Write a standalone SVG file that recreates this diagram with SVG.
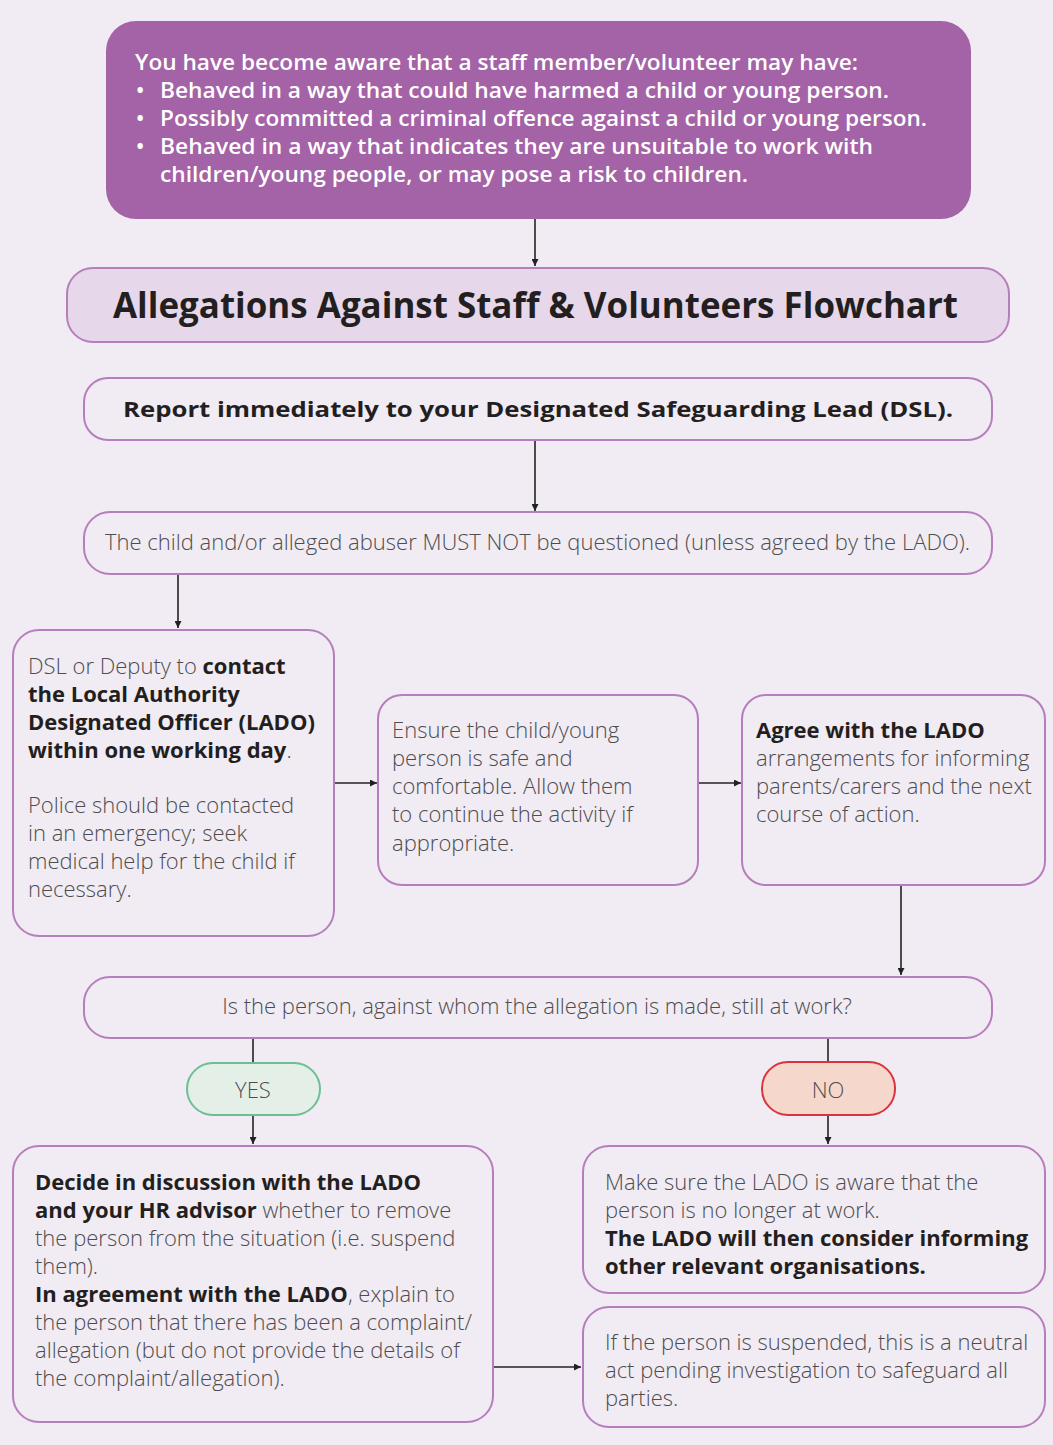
<svg xmlns="http://www.w3.org/2000/svg" width="1053" height="1445" viewBox="0 0 1053 1445">
<defs>
<marker id="ah" viewBox="0 0 10 10" refX="10" refY="5" markerWidth="7" markerHeight="7" markerUnits="userSpaceOnUse" orient="auto">
<path d="M0,0 L10,5 L0,10 z" fill="#222"/>
</marker>
<style>
.box{fill:#f1ebf3;stroke:#b67ebc;stroke-width:2}
.t{font-family:"Open Sans","Noto Sans",sans-serif;font-size:22px;fill:#4d4d4f;font-weight:300}
.b{font-weight:700;fill:#231f20}
.w{font-family:"Open Sans","Noto Sans",sans-serif;font-size:22px;fill:#ffffff;font-weight:600}
.c{stroke:#222;stroke-width:1.6;fill:none;marker-end:url(#ah)}
.l{stroke:#222;stroke-width:1.6;fill:none}
</style>
</defs>
<rect x="0" y="0" width="1053" height="1445" fill="#f1ebf3"/>

<g id="connectors">
<line class="c" x1="535" y1="219" x2="535" y2="266"/>
<line class="c" x1="535" y1="441" x2="535" y2="511"/>
<line class="c" x1="178" y1="575" x2="178" y2="628"/>
<line class="c" x1="335" y1="783" x2="377" y2="783"/>
<line class="c" x1="699" y1="783" x2="741" y2="783"/>
<line class="c" x1="901" y1="886" x2="901" y2="975"/>
<line class="l" x1="253" y1="1039" x2="253" y2="1063"/>
<line class="c" x1="253" y1="1116" x2="253" y2="1144"/>
<line class="l" x1="828" y1="1039" x2="828" y2="1062"/>
<line class="c" x1="828" y1="1116" x2="828" y2="1144"/>
<line class="c" x1="494" y1="1367" x2="581" y2="1367"/>
</g>

<g id="intro">
<rect x="106" y="21" width="865" height="198" rx="30" fill="#a462a7"/>
<text class="w" x="135" y="70" textLength="723" lengthAdjust="spacingAndGlyphs">You have become aware that a staff member/volunteer may have:</text>
<text class="w" x="136" y="98">•</text>
<text class="w" x="160" y="98" textLength="729" lengthAdjust="spacingAndGlyphs">Behaved in a way that could have harmed a child or young person.</text>
<text class="w" x="136" y="126">•</text>
<text class="w" x="160" y="126" textLength="767" lengthAdjust="spacingAndGlyphs">Possibly committed a criminal offence against a child or young person.</text>
<text class="w" x="136" y="154">•</text>
<text class="w" x="160" y="154" textLength="713" lengthAdjust="spacingAndGlyphs">Behaved in a way that indicates they are unsuitable to work with</text>
<text class="w" x="160" y="182" textLength="588" lengthAdjust="spacingAndGlyphs">children/young people, or may pose a risk to children.</text>
</g>

<g id="title">
<rect x="67" y="268" width="942" height="74" rx="26" fill="#e6d7ea" stroke="#b67ebc" stroke-width="2"/>
<text x="113" y="318" font-family="'Open Sans','Noto Sans',sans-serif" font-size="35" font-weight="700" fill="#231f20" textLength="845" lengthAdjust="spacingAndGlyphs">Allegations Against Staff &amp; Volunteers Flowchart</text>
</g>

<g id="report">
<rect class="box" x="84" y="378" width="908" height="62" rx="24"/>
<text class="t b" x="123" y="417" font-size="25" textLength="830" lengthAdjust="spacingAndGlyphs">Report immediately to your Designated Safeguarding Lead (DSL).</text>
</g>

<g id="noquestion">
<rect class="box" x="84" y="512" width="908" height="62" rx="26"/>
<text class="t" x="105" y="550" textLength="865" lengthAdjust="spacingAndGlyphs">The child and/or alleged abuser MUST NOT be questioned (unless agreed by the LADO).</text>
</g>

<g id="contactlado">
<rect class="box" x="13" y="630" width="321" height="306" rx="26"/>
<text class="t" x="28" y="674">DSL or Deputy to <tspan class="b">contact</tspan></text>
<text class="t b" x="28" y="702">the Local Authority</text>
<text class="t b" x="28" y="730">Designated Officer (LADO)</text>
<text class="t" x="28" y="758"><tspan class="b">within one working day</tspan>.</text>
<text class="t" x="28" y="813">Police should be contacted</text>
<text class="t" x="28" y="841">in an emergency; seek</text>
<text class="t" x="28" y="869">medical help for the child if</text>
<text class="t" x="28" y="897">necessary.</text>
</g>

<g id="ensuresafe">
<rect class="box" x="378" y="695" width="320" height="190" rx="24"/>
<text class="t" x="392" y="738">Ensure the child/young</text>
<text class="t" x="392" y="766">person is safe and</text>
<text class="t" x="392" y="794">comfortable. Allow them</text>
<text class="t" x="392" y="822">to continue the activity if</text>
<text class="t" x="392" y="851">appropriate.</text>
</g>

<g id="agreelado">
<rect class="box" x="742" y="695" width="303" height="190" rx="24"/>
<text class="t b" x="756" y="738">Agree with the LADO</text>
<text class="t" x="756" y="766">arrangements for informing</text>
<text class="t" x="756" y="794">parents/carers and the next</text>
<text class="t" x="756" y="822">course of action.</text>
</g>

<g id="stillatwork">
<rect class="box" x="84" y="977" width="908" height="61" rx="26"/>
<text class="t" x="537" y="1014" text-anchor="middle">Is the person, against whom the allegation is made, still at work?</text>
</g>

<g id="yes">
<rect x="187" y="1063" width="133" height="52" rx="26" fill="#e4f0e7" stroke="#6dbe93" stroke-width="2"/>
<text class="t" x="253" y="1098" text-anchor="middle">YES</text>
</g>

<g id="no">
<rect x="762" y="1062" width="133" height="53" rx="26" fill="#f6d7cb" stroke="#d8343d" stroke-width="2"/>
<text class="t" x="828" y="1098" text-anchor="middle">NO</text>
</g>

<g id="decide">
<rect class="box" x="13" y="1146" width="480" height="276" rx="26"/>
<text class="t b" x="35" y="1190">Decide in discussion with the LADO</text>
<text class="t" x="35" y="1218"><tspan class="b">and your HR advisor</tspan> whether to remove</text>
<text class="t" x="35" y="1246">the person from the situation (i.e. suspend</text>
<text class="t" x="35" y="1274">them).</text>
<text class="t" x="35" y="1302"><tspan class="b">In agreement with the LADO</tspan>, explain to</text>
<text class="t" x="35" y="1330">the person that there has been a complaint/</text>
<text class="t" x="35" y="1358">allegation (but do not provide the details of</text>
<text class="t" x="35" y="1386">the complaint/allegation).</text>
</g>

<g id="makesure">
<rect class="box" x="583" y="1146" width="462" height="147" rx="26"/>
<text class="t" x="605" y="1190">Make sure the LADO is aware that the</text>
<text class="t" x="605" y="1218">person is no longer at work.</text>
<text class="t b" x="605" y="1246">The LADO will then consider informing</text>
<text class="t b" x="605" y="1274">other relevant organisations.</text>
</g>

<g id="suspended">
<rect class="box" x="583" y="1307" width="462" height="120" rx="26"/>
<text class="t" x="605" y="1350">If the person is suspended, this is a neutral</text>
<text class="t" x="605" y="1378">act pending investigation to safeguard all</text>
<text class="t" x="605" y="1406">parties.</text>
</g>
</svg>
